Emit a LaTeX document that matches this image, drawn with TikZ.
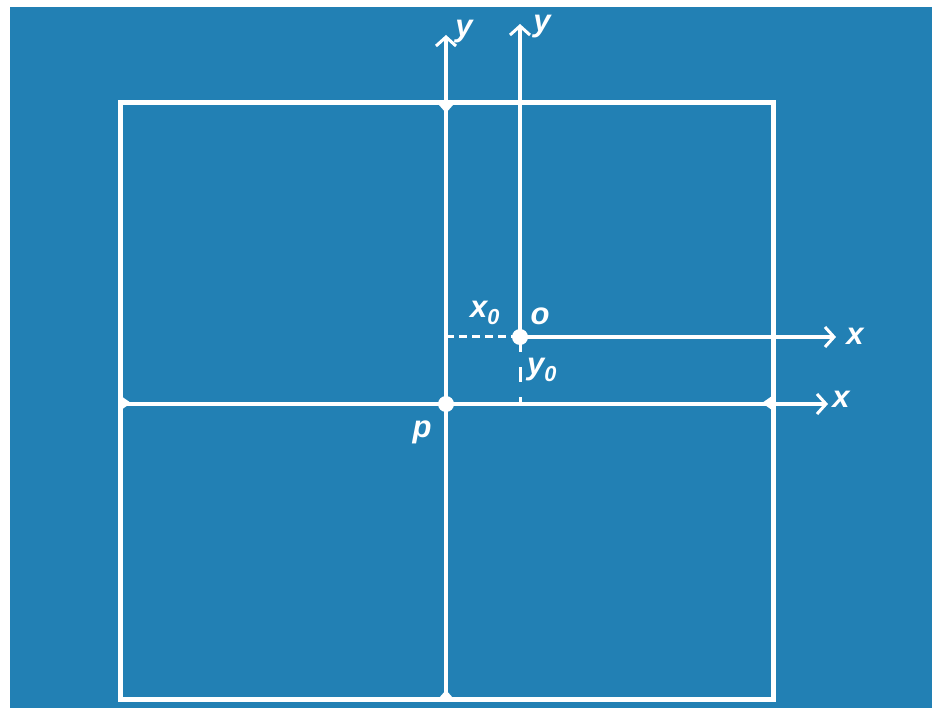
\documentclass[tikz,border=0pt]{standalone}
\usepackage{fontspec}
\setmainfont{Liberation Sans}
\usetikzlibrary{arrows.meta}
\definecolor{bg}{RGB}{34,128,180}
\begin{document}
\begin{tikzpicture}[x=1pt,y=-1pt,
 lbl/.style={text=white,font=\fontsize{31}{34}\selectfont\bfseries\itshape,inner sep=0pt},
 axis/.style={white,line width=4pt,-{Straight Barb[length=9pt,width=20pt,line width=3pt]}},
 frame/.style={white,line width=5pt},
 dot/.style={circle,fill=white,inner sep=0pt,minimum size=16pt},
 joint/.style={fill=white},
 dashline/.style={white,line width=3pt}
]
\useasboundingbox (0,0) rectangle (932,708);
\fill[white] (0,0) rectangle (932,708);
\fill[bg] (10,7) rectangle (932,708);
% frame
\coordinate (tl) at (120,103);
\coordinate (br) at (773,699);
\draw[frame] (tl) rectangle (br);
% key points
\coordinate (o) at (520,337);
\coordinate (p) at (446,404);
\coordinate (pb) at (446,699);
\coordinate (pt) at (446,35);
\coordinate (pl) at (120,404);
\coordinate (pr) at (828,404);
\coordinate (ot) at (520,24);
\coordinate (orr) at (836,337);
% joints
\fill[joint] (439,105) -- (453,105) -- (446,113) -- cycle;
\fill[joint] (439,698) -- (453,698) -- (446,690) -- cycle;
\fill[joint] (121,396) -- (121,410) -- (131,403) -- cycle;
\fill[joint] (772,396) -- (772,410) -- (762,403) -- cycle;
% axes
\draw[axis] (pb) -- (pt);
\draw[axis] (pl) -- (pr);
\draw[axis] (o) -- (ot);
\draw[axis] (o) -- (orr);
% dashed offsets
\draw[dashline,dash pattern=on 8pt off 5pt] (p |- o) -- (o);
\draw[dashline,dash pattern=on 15pt off 15pt] (o) -- (o |- p);
% dots
\node[dot] (odot) at (o) {};
\node[dot] (pdot) at (p) {};
% labels
\node[lbl] (ly1) at (464,32) {y};
\node[lbl] (ly2) at (542,27) {y};
\node[lbl] (lx1) at (855,336) {x};
\node[lbl] (lx2) at (841,399) {x};
\node[lbl] (lo) at (540,316) {o};
\node[lbl] (lx0) at (485,313) {x\textsubscript{0}};
\node[lbl] (ly0) at (542,370) {y\textsubscript{0}};
\node[lbl] (lp) at (422,432) {p};
\end{tikzpicture}
\end{document}
